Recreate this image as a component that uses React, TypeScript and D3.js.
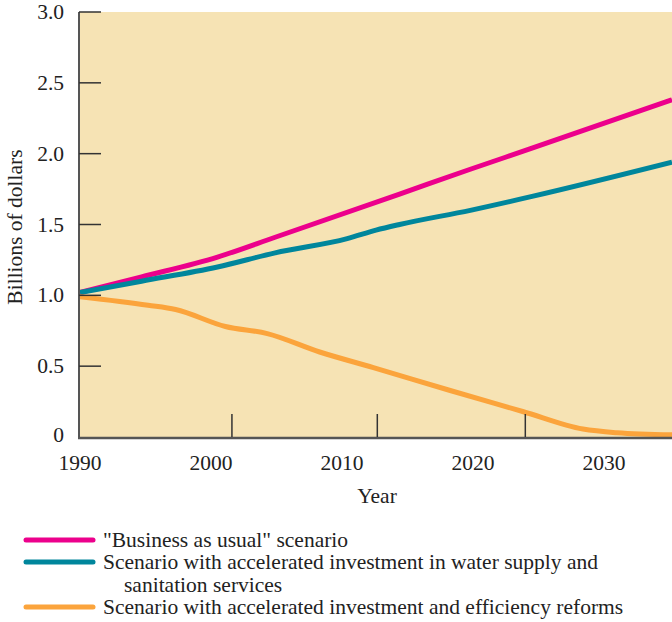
import * as React from "react";
import * as d3 from "d3";

// values
const yTicks = [0, 0.5, 1.0, 1.5, 2.0, 2.5, 3.0];
const xLabels = [1990, 2000, 2010, 2020, 2030];
const xTickYears = [2001.6, 2012.7, 2024.0]; // the original's tick marks sit off the labels

const bauYears = [1990, 1994.7, 2000.5, 2004.9, 2014.4, 2019.8, 2024.4, 2035.2];
const bauValues = [1.02, 1.13, 1.27, 1.41, 1.715, 1.89, 2.035, 2.38];

const waterYears = [1990, 1994.7, 2000.5, 2004.9, 2010.4, 2012.6, 2014.4, 2019.8, 2024.6, 2035.2];
const waterValues = [1.02, 1.1, 1.2, 1.3, 1.4, 1.46, 1.5, 1.6, 1.7, 1.94];

const effYears = [1990, 1995.2, 1997.3, 2001.1, 2004.3, 2008.3, 2012.4, 2018.2, 2023.8, 2028.4, 2031, 2035.2];
const effValues = [0.99, 0.93, 0.9, 0.78, 0.73, 0.6, 0.49, 0.33, 0.18, 0.056, 0.03, 0.015];

const seriesNames = [
  ['"Business as usual" scenario'],
  ["Scenario with accelerated investment in water supply and", "sanitation services"],
  ["Scenario with accelerated investment and efficiency reforms"],
];
const seriesColors = ["#ec008c", "#00869c", "#fba43c"];

const W = 672;
const H = 622;
const left = 79;
const top = 12;
const bottom = 437;
const fs = 21.5;
const font = '"Liberation Serif", "Times New Roman", serif';

export default function App() {
  const x = d3.scaleLinear().domain([1990, 2035.2]).range([80, 672]);
  const y = d3.scaleLinear().domain([0, 3]).range([bottom, top]);

  const line = d3
    .line<[number, number]>()
    .x((d) => x(d[0]))
    .y((d) => y(d[1]))
    .curve(d3.curveMonotoneX);

  const series = [
    d3.zip(bauYears, bauValues) as [number, number][],
    d3.zip(waterYears, waterValues) as [number, number][],
    d3.zip(effYears, effValues) as [number, number][],
  ];

  // legend rows
  const legendRows = [540, 562, 607];

  return (
    <>
      <style>{`body{margin:0}`}</style>
      <svg width={W} height={H} style={{ display: "block" }} fontFamily={font}>
        <rect x={left} y={top} width={W - left} height={bottom - top + 1} fill="#f6e3b4" />

        <g>
          {series.map((s, i) => (
            <path
              key={i}
              d={line(s) ?? ""}
              fill="none"
              stroke={seriesColors[i]}
              strokeWidth={5}
              strokeLinejoin="round"
            />
          ))}
        </g>

        {/* axes */}
        <line x1={left} x2={left} y1={top} y2={bottom + 1} stroke="#555" strokeWidth={2} />
        <line x1={left - 1} x2={W} y1={bottom + 1} y2={bottom + 1} stroke="#555" strokeWidth={2.5} />

        {yTicks.map((t) => (
          <g key={t}>
            {t > 0 && (
              <line x1={left} x2={left + 22} y1={y(t)} y2={y(t)} stroke="#333" strokeWidth={1.5} />
            )}
            <text
              x={64}
              y={t === 0 ? y(t) - 2 : y(t)}
              textAnchor="end"
              dominantBaseline="central"
              fontSize={fs}
              fill="#222"
            >
              {t === 0 ? "0" : d3.format(".1f")(t)}
            </text>
          </g>
        ))}

        {xTickYears.map((t) => (
          <line key={t} x1={x(t)} x2={x(t)} y1={bottom - 23} y2={bottom} stroke="#333" strokeWidth={1.5} />
        ))}

        {xLabels.map((t) => (
          <text key={t} x={x(t)} y={470} textAnchor="middle" fontSize={fs} fill="#222">
            {t}
          </text>
        ))}

        <text x={377} y={503} textAnchor="middle" fontSize={fs} fill="#222">
          Year
        </text>
        <text
          transform={`translate(22, 227) rotate(-90)`}
          textAnchor="middle"
          fontSize={fs}
          fill="#222"
        >
          Billions of dollars
        </text>

        {/* legend */}
        {seriesNames.map((lines, i) => (
          <g key={i}>
            <line
              x1={26}
              x2={93}
              y1={legendRows[i]}
              y2={legendRows[i]}
              stroke={seriesColors[i]}
              strokeWidth={5}
              strokeLinecap="round"
            />
            {lines.map((txt, j) => (
              <text
                key={j}
                x={j === 0 ? 103 : 124}
                y={legendRows[i] + j * 23}
                dominantBaseline="central"
                fontSize={fs}
                fill="#222"
              >
                {txt}
              </text>
            ))}
          </g>
        ))}
      </svg>
    </>
  );
}
